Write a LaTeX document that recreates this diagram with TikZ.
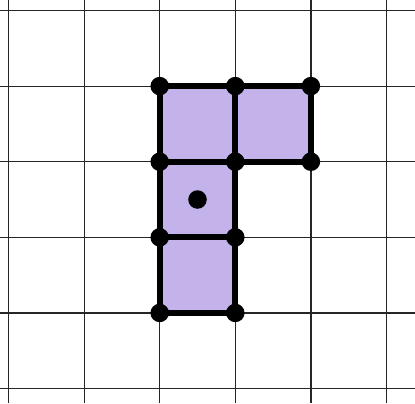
\documentclass[tikz,border=0pt]{standalone}
\definecolor{lav}{HTML}{C4B2EA}
\tikzset{
  gridline/.style={line width=0.45pt, black!85},
  cell/.style={fill=lav, draw=black, line width=2.2pt, line join=round},
  vtx/.style={circle, fill=black, inner sep=0pt, minimum size=0.245cm},
}
\begin{document}
\begin{tikzpicture}[x=1cm,y=1cm]
\useasboundingbox (-0.1124,0.1389) rectangle (5.3770,-5.1918);
% grid
\foreach \i in {0,...,5} {
  \draw[gridline] (\i,0.1389) -- (\i,-5.1918);
  \draw[gridline] (-0.1124,-\i) -- (5.3770,-\i);
}
% cells
\draw[cell] (2,-1) rectangle (3,-2);
\draw[cell] (3,-1) rectangle (4,-2);
\draw[cell] (2,-2) rectangle (3,-3);
\draw[cell] (2,-3) rectangle (3,-4);
% vertices
\node[vtx] (v21) at (2,-1) {};
\node[vtx] (v31) at (3,-1) {};
\node[vtx] (v41) at (4,-1) {};
\node[vtx] (v22) at (2,-2) {};
\node[vtx] (v32) at (3,-2) {};
\node[vtx] (v42) at (4,-2) {};
\node[vtx] (v23) at (2,-3) {};
\node[vtx] (v33) at (3,-3) {};
\node[vtx] (v24) at (2,-4) {};
\node[vtx] (v34) at (3,-4) {};
\node[vtx] (c) at (2.5,-2.5) {};
\end{tikzpicture}
\end{document}
